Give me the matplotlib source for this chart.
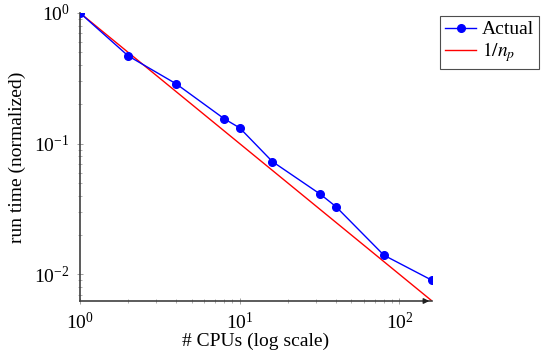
import matplotlib
matplotlib.use('Agg')
import matplotlib.pyplot as plt
import numpy as np

# data
n_cpus = [1, 2, 4, 8, 10, 16, 32, 40, 80, 160]
run_time = [1.0, 0.47, 0.287, 0.155, 0.132, 0.073, 0.041, 0.033, 0.014, 0.009]
ideal_x = [1, 160]
ideal_y = [1.0, 1 / 160]

plt.rcParams['font.family'] = ['Liberation Serif', 'DejaVu Serif']
plt.rcParams['mathtext.fontset'] = 'stix'

fig = plt.figure(figsize=(5.5, 3.61), dpi=100)
ax = fig.add_axes([0.1455, 0.1662, 0.64, 0.7978])

ax.plot(n_cpus, run_time, color='#0000ff', marker='o', markersize=5.5,
        linewidth=1.0, label='Actual', zorder=3)
ax.plot(ideal_x, ideal_y, color='#ff0000', linewidth=1.0,
        label=r'$1/n_p$', zorder=2)

ax.set_xscale('log')
ax.set_yscale('log')
ax.set_xlim(1, 160)
ax.set_ylim(1 / 160, 1.0)

ax.spines['top'].set_visible(False)
ax.spines['right'].set_visible(False)
for s in ('left', 'bottom'):
    ax.spines[s].set_color('#404040')
    ax.spines[s].set_linewidth(1.2)

ax.tick_params(which='both', direction='inout', color='#909090', labelsize=14)
ax.tick_params(which='major', length=5, width=0.6, pad=5)
ax.tick_params(which='minor', length=3, width=0.5)

# arrow at the end of the x axis
ax.annotate('', xy=(1.0, 0), xycoords='axes fraction', xytext=(0.97, 0),
            arrowprops=dict(arrowstyle='-|>', color='#202020', lw=1.0,
                            mutation_scale=8), annotation_clip=False)

ax.set_xlabel('# CPUs (log scale)', fontsize=14, labelpad=0)
ax.set_ylabel('run time (normalized)', fontsize=14, labelpad=6)

leg = ax.legend(loc='upper left', bbox_to_anchor=(1.023, 0.99), fontsize=14,
                frameon=True, fancybox=False, edgecolor='#202020',
                handlelength=1.6, borderpad=0.25, labelspacing=0.1,
                handletextpad=0.3, borderaxespad=0)
leg.get_frame().set_linewidth(0.8)

fig.savefig('out.png', dpi=100)
